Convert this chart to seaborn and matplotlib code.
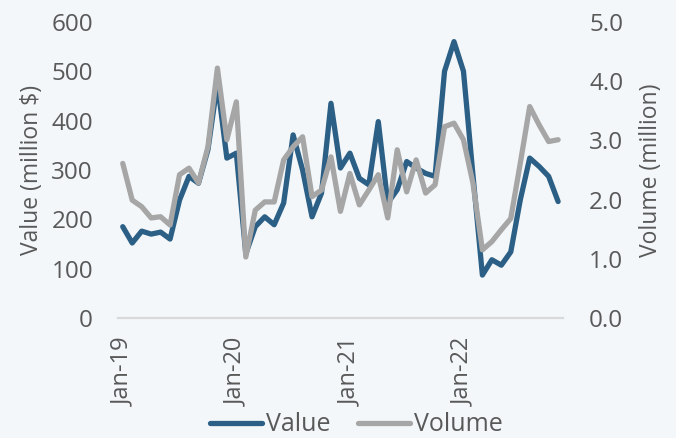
import numpy as np
import pandas as pd
import matplotlib
matplotlib.use("Agg")
import matplotlib.pyplot as plt
import seaborn as sns

# --- data (monthly, Jan-19 .. Nov-22) ---
months = pd.date_range("2019-01-01", "2022-11-01", freq="MS")
value = [185, 152, 176, 170, 174, 160, 239, 287, 273, 341, 476, 324,
         334, 130, 185, 205, 189, 233, 371, 300, 205, 253, 435, 304,
         334, 283, 270, 398, 233, 260, 317, 304, 293, 287, 500, 560,
         500, 290, 87, 118, 107, 134, 239, 324, 307, 287, 236]
volume = [2.61, 1.99, 1.88, 1.69, 1.71, 1.57, 2.42, 2.53, 2.28, 2.89, 4.22, 3.01,
          3.65, 1.03, 1.82, 1.96, 1.96, 2.67, 2.89, 3.06, 2.05, 2.16, 2.72, 1.80,
          2.44, 1.91, 2.16, 2.42, 1.69, 2.84, 2.13, 2.67, 2.11, 2.25, 3.23, 3.29,
          3.01, 2.28, 1.15, 1.29, 1.49, 1.68, 2.61, 3.57, 3.26, 2.98, 3.01]
labels = [m.strftime("%b-%y") for m in months]

df = pd.DataFrame({"idx": np.arange(len(months)), "Value": value, "Volume": volume})

BLUE = "#2C5F85"
GREY = "#A6A6A6"
TXT = "#595959"
BG = "#F3F7F9"

sns.set_theme(style="white")
plt.rcParams["font.family"] = ["Open Sans", "DejaVu Sans"]

fig = plt.figure(figsize=(6.76, 4.38), dpi=100, facecolor=BG)
ax = fig.add_axes([0.1746, 0.274, 0.658, 0.676])
ax.set_facecolor(BG)
ax2 = ax.twinx()

line_kw = dict(linewidth=3.8, solid_joinstyle="round", solid_capstyle="round")
sns.lineplot(data=df, x="idx", y="Value", ax=ax, color=BLUE, label="Value",
             legend=False, **line_kw)
sns.lineplot(data=df, x="idx", y="Volume", ax=ax2, color=GREY, label="Volume",
             legend=False, **line_kw)

ax.set_ylim(0, 600)
ax2.set_ylim(0, 5)
ax.set_xlim(-0.5, len(months) - 0.5)
ax.set_yticks(range(0, 601, 100))
ax2.set_yticks(np.arange(0, 5.01, 1.0))
ax2.set_yticklabels([f"{v:.1f}" for v in np.arange(0, 5.01, 1.0)])

jan = [i for i, m in enumerate(months) if m.month == 1]
ax.set_xticks(jan)
ax.set_xticklabels([labels[i] for i in jan], rotation=90)
ax.set_xticks(np.arange(-0.5, len(months), 1.0), minor=True)
ax.tick_params(axis="x", which="major", length=0, pad=14, labelsize=17, labelcolor=TXT)
ax.tick_params(axis="x", which="minor", length=5, color="#D9D9D9", width=1, direction="out")
ax.tick_params(axis="y", length=0, labelsize=17.5, labelcolor=TXT, pad=18)
ax2.tick_params(axis="y", length=0, labelsize=17.5, labelcolor=TXT, pad=19)

for a in (ax, ax2):
    for s in ["top", "left", "right"]:
        a.spines[s].set_visible(False)
    a.spines["bottom"].set_color("#D9D9D9")
    a.spines["bottom"].set_linewidth(1.5)
    a.grid(False)

ax.set_xlabel("")
ax.set_ylabel("Value (million $)", fontsize=16.5, color=TXT, labelpad=5)
ax2.set_ylabel("Volume (million)", fontsize=16.5, color=TXT, labelpad=11)

handles = [ax.get_lines()[0], ax2.get_lines()[0]]
fig.legend(handles, ["Value", "Volume"], loc="lower center", bbox_to_anchor=(0.527, -0.05),
           ncol=2, frameon=False, fontsize=18, labelcolor=TXT, handlelength=2.1,
           handletextpad=0.15, columnspacing=1.1)

fig.savefig("out.png", dpi=100, facecolor=BG)
